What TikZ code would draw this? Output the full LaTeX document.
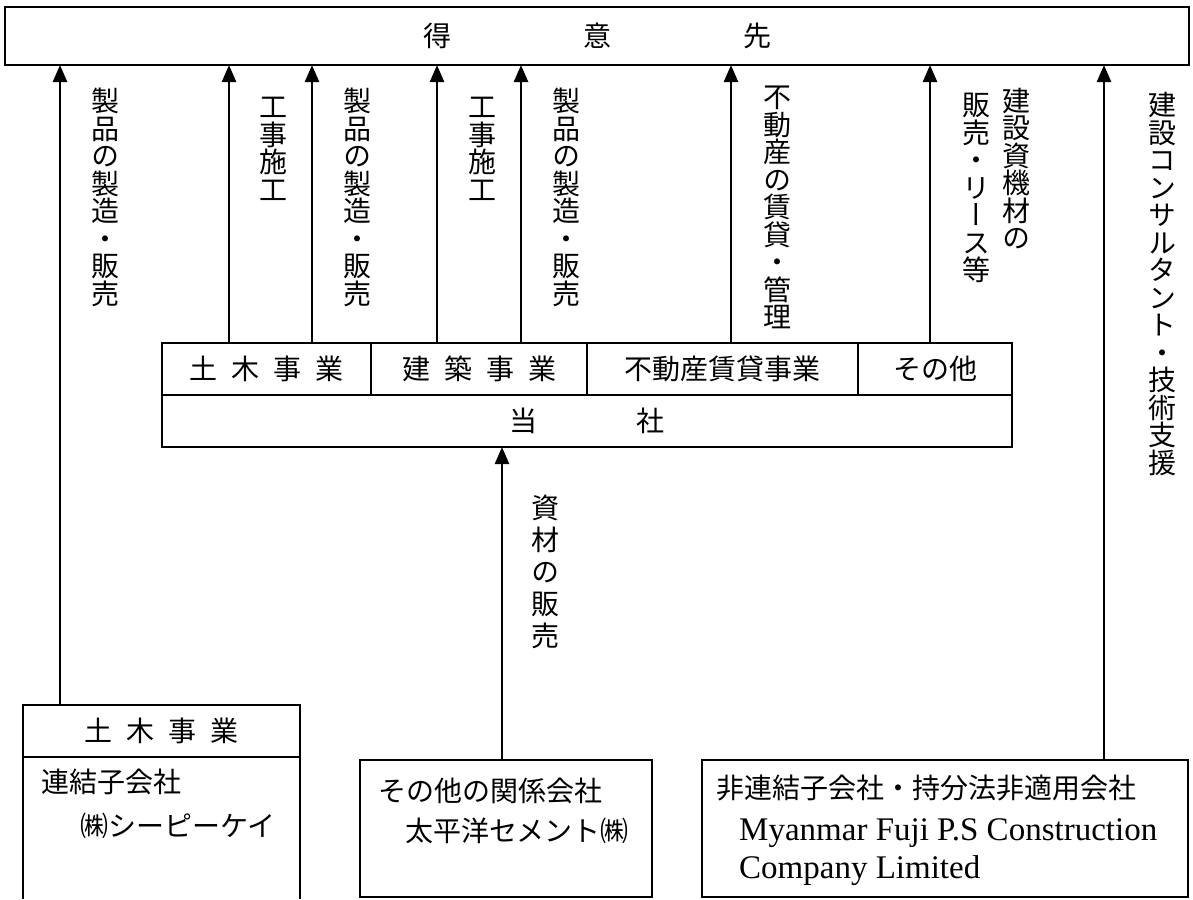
\documentclass[tikz,border=0pt]{standalone}
\usepackage{fontspec}
\newfontfamily\jpfont{Noto Sans CJK JP}
\newfontfamily\jpvfont[RawFeature=+vert]{Noto Sans CJK JP}
\newfontfamily\latfont{Liberation Serif}
\usetikzlibrary{arrows.meta}
\tikzset{
  box/.style={draw, line width=2.2pt, inner sep=0pt, outer sep=0pt,
    font=\jpfont\fontsize{28pt}{28pt}\selectfont},
  boxline/.style={line width=2.2pt},
  arr/.style={line width=2.5pt, -{Triangle[width=14pt,length=17pt]}},
  vlab/.style={inner sep=0pt, anchor=north, align=center,
    font=\jpvfont\fontsize{28pt}{27.5pt}\selectfont},
  txt/.style={inner sep=0pt, anchor=base west,
    font=\jpfont\fontsize{28pt}{28pt}\selectfont},
  lat/.style={inner sep=0pt, anchor=base west,
    font=\latfont\fontsize{33pt}{33pt}\selectfont},
}
\begin{document}
\begin{tikzpicture}[x=1pt,y=-1pt]
\useasboundingbox (0,0) rectangle (1193,899);
% customers
\node[box, minimum width=1184pt, minimum height=58pt] (top) at (597,36)
  {得\hspace{132pt}意\hspace{132pt}先};
% company segments
\node[box, minimum width=209pt, minimum height=52pt] (civil) at (266.5,369)
  {土\hspace{14pt}木\hspace{14pt}事\hspace{14pt}業};
\node[box, minimum width=216pt, minimum height=52pt] (arch) at (479,369)
  {建\hspace{14pt}築\hspace{14pt}事\hspace{14pt}業};
\node[box, minimum width=271pt, minimum height=52pt] (estate) at (722.5,369)
  {不動産賃貸事業};
\node[box, minimum width=154pt, minimum height=52pt] (other) at (935,369)
  {その他};
\node[box, minimum width=850pt, minimum height=52pt] (company) at (587,421)
  {当\hspace{99pt}社\hspace{45pt}};
% bottom-left subsidiary
\node[box, minimum width=277pt, minimum height=52pt] (subhead) at (161.5,731)
  {土\hspace{14pt}木\hspace{14pt}事\hspace{14pt}業};
\coordinate (lbl) at (23,899);
\coordinate (lbr) at (300,899);
\draw[boxline] (subhead.south west) -- (lbl);
\draw[boxline] (subhead.south east) -- (lbr);
\node[txt] (sub1a) at (41,792) {連結子会社};
\node[txt] (sub1b) at (80,836) {㈱シーピーケイ};
% bottom-middle related company
\node[box, minimum width=292pt, minimum height=137pt] (affil) at (506,828.5) {};
\node[txt] (affa) at (378,801) {その他の関係会社};
\node[txt] (affb) at (405,841) {太平洋セメント㈱};
% bottom-right non-consolidated
\node[box, minimum width=486pt, minimum height=137pt] (nonc) at (945,828.5) {};
\node[txt] (nona) at (716,798) {非連結子会社・持分法非適用会社};
\node[lat] (nonb) at (739,840) {Myanmar Fuji P.S Construction};
\node[lat] (nonc3) at (739,878) {Company Limited};
% arrows
\draw[arr] ([xshift=-101.5pt]subhead.north) -- ([xshift=-101.5pt]subhead.north |- top.south);
\draw[arr] ([xshift=-37.5pt]civil.north) -- ([xshift=-37.5pt]civil.north |- top.south);
\draw[arr] ([xshift=45.5pt]civil.north) -- ([xshift=45.5pt]civil.north |- top.south);
\draw[arr] ([xshift=-42pt]arch.north) -- ([xshift=-42pt]arch.north |- top.south);
\draw[arr] ([xshift=42pt]arch.north) -- ([xshift=42pt]arch.north |- top.south);
\draw[arr] ([xshift=8.5pt]estate.north) -- ([xshift=8.5pt]estate.north |- top.south);
\draw[arr] ([xshift=-5pt]other.north) -- ([xshift=-5pt]other.north |- top.south);
\draw[arr] ([xshift=159pt]nonc.north) -- ([xshift=159pt]nonc.north |- top.south);
\draw[arr] ([xshift=-4pt]affil.north) -- ([xshift=-4pt]affil.north |- company.south);
% vertical labels
\node[vlab] (lab1) at (105,88) {製\\品\\の\\製\\造\\・\\販\\売};
\node[vlab] (lab2) at (273,97) {工\\事\\施\\工};
\node[vlab] (lab3) at (357,88) {製\\品\\の\\製\\造\\・\\販\\売};
\node[vlab] (lab4) at (482,97) {工\\事\\施\\工};
\node[vlab] (lab5) at (566,88) {製\\品\\の\\製\\造\\・\\販\\売};
\node[vlab] (lab6) at (777,86) {不\\動\\産\\の\\賃\\貸\\・\\管\\理};
\node[vlab] (lab7a) at (1016,88) {建\\設\\資\\機\\材\\の};
\node[vlab] (lab7b) at (976,93) {販\\売\\・\\リ\\ー\\ス\\等};
\node[vlab] (lab8) at (1162,92) {建\\設\\コ\\ン\\サ\\ル\\タ\\ン\\ト\\・\\技\\術\\支\\援};
\node[vlab, font=\jpvfont\fontsize{28pt}{32pt}\selectfont] (lab9) at (545,495) {資\\材\\の\\販\\売};
\end{tikzpicture}
\end{document}
